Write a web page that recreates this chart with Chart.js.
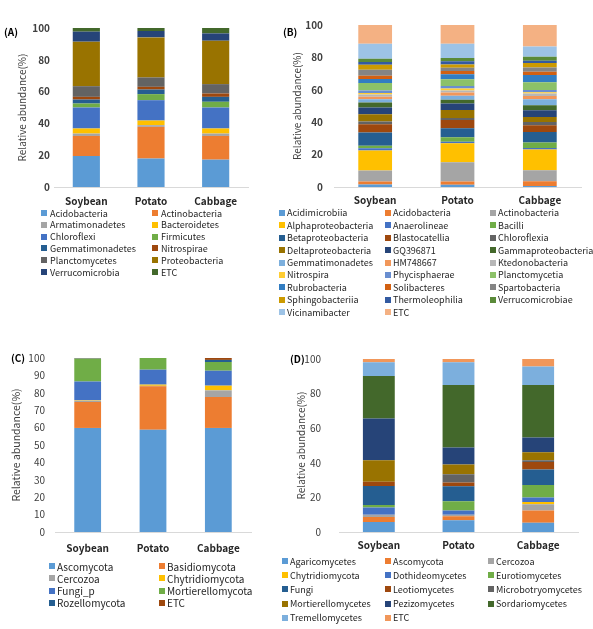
<!DOCTYPE html>
<html>
<head>
<meta charset="utf-8">
<script src="https://cdn.jsdelivr.net/npm/chart.js@4/dist/chart.umd.min.js"></script>
<style>
    html, body { margin: 0; padding: 0; background: #fff; }
    #wrap { position: relative; width: 593px; height: 629px; overflow: hidden; font-family: "Noto Sans CJK KR", "Noto Sans", sans-serif; }
    #wrap canvas { position: absolute; left: 0; top: 0; }
    .panel { position: absolute; font-size: 10px; font-weight: bold; color: #000; line-height: 12px; }
    .leg { position: absolute; display: flex; align-items: center; height: 12px; white-space: nowrap; color: #262626; }
    .leg i { display: inline-block; width: 6px; height: 6px; flex: none; }
</style>
</head>
<body>
<div id="wrap">
    <div class="panel" style="left:4px; top:26px;">(A)</div>
    <div class="panel" style="left:283px; top:26px;">(B)</div>
    <div class="panel" style="left:11px; top:352px;">(C)</div>
    <div class="panel" style="left:290px; top:353px;">(D)</div>
</div>
<script>
const sites = ['Soybean', 'Potato', 'Cabbage'];

// default office palette, in series order
const COLORS = ['#5B9BD5', '#ED7D31', '#A5A5A5', '#FFC000', '#4472C4', '#70AD47',
    '#255E91', '#9E480E', '#636363', '#997300', '#264478', '#43682B',
    '#7CAFDD', '#F1975A', '#B7B7B7', '#FFCD33', '#698ED0', '#8CC168',
    '#327DC2', '#D26012', '#848484', '#CC9A00', '#335AA1', '#5A8A39',
    '#9DC3E6', '#F4B183'];

// (A) bacterial phyla
const phylumNames = ['Acidobacteria', 'Actinobacteria', 'Armatimonadetes', 'Bacteroidetes', 'Chloroflexi', 'Firmicutes',
    'Gemmatimonadetes', 'Nitrospirae', 'Planctomycetes', 'Proteobacteria', 'Verrucomicrobia', 'ETC'];
const phylumSoybean = [19.5, 12.6, 1.5, 3.2, 13.2, 2.5, 2.5, 1.7, 6.7, 28.0, 6.3, 2.3];
const phylumPotato = [17.9, 19.9, 1.1, 2.9, 12.8, 3.8, 2.9, 1.7, 5.9, 25.2, 4.0, 1.9];
const phylumCabbage = [17.2, 14.9, 1.5, 3.2, 13.2, 3.6, 3.1, 2.1, 5.9, 27.3, 4.6, 3.4];

// (B) bacterial classes
const classNames = ['Acidimicrobiia', 'Acidobacteria', 'Actinobacteria', 'Alphaproteobacteria', 'Anaerolineae', 'Bacilli',
    'Betaproteobacteria', 'Blastocatellia', 'Chloroflexia', 'Deltaproteobacteria', 'GQ396871', 'Gammaproteobacteria',
    'Gemmatimonadetes', 'HM748667', 'Ktedonobacteria', 'Nitrospira', 'Phycisphaerae', 'Planctomycetia',
    'Rubrobacteria', 'Solibacteres', 'Spartobacteria', 'Sphingobacteriia', 'Thermoleophilia', 'Verrucomicrobiae',
    'Vicinamibacter', 'ETC'];
const classSoybean = [1.6, 1.8, 6.8, 12.3, 1.4, 1.6, 8.2, 5.1, 1.6, 4.5, 4.1, 3.1, 2.0, 1.6, 1.4, 1.0, 1.4, 4.7, 2.5, 2.0, 3.7, 3.1, 1.6, 2.0, 9.3, 11.6];
const classPotato = [1.4, 2.0, 11.9, 11.7, 1.0, 2.7, 5.6, 5.1, 1.2, 4.9, 4.1, 2.3, 2.5, 2.0, 1.2, 1.2, 1.6, 4.1, 3.1, 2.0, 2.0, 2.0, 2.0, 2.0, 8.8, 11.6];
const classCabbage = [0.6, 2.9, 6.8, 12.8, 1.0, 3.3, 6.6, 4.1, 2.0, 3.1, 4.1, 3.1, 3.7, 2.0, 1.6, 0.8, 1.4, 4.7, 4.5, 2.0, 2.7, 2.7, 1.4, 2.5, 6.4, 13.2];

// (C) fungal phyla
const fungiPhylumNames = ['Ascomycota', 'Basidiomycota', 'Cercozoa', 'Chytridiomycota', 'Fungi_p', 'Mortierellomycota', 'Rozellomycota', 'ETC'];
const fungiPhylumSoybean = [59.8, 14.9, 0.8, 0.3, 10.7, 13.1, 0.2, 0.2];
const fungiPhylumPotato = [58.8, 24.9, 0.3, 0.7, 8.6, 6.7, 0, 0];
const fungiPhylumCabbage = [59.8, 17.8, 3.8, 2.7, 8.6, 5.0, 1.2, 1.1];

// (D) fungal classes
const fungiClassNames = ['Agaricomycetes', 'Ascomycota', 'Cercozoa', 'Chytridiomycota', 'Dothideomycetes', 'Eurotiomycetes', 'Fungi',
    'Leotiomycetes', 'Microbotryomycetes', 'Mortierellomycetes', 'Pezizomycetes', 'Sordariomycetes', 'Tremellomycetes', 'ETC'];
const fungiClassSoybean = [5.8, 2.9, 1.3, 0, 4.1, 1.5, 11.0, 2.4, 0, 12.5, 24.1, 24.6, 7.9, 1.9];
const fungiClassPotato = [6.8, 2.3, 0.9, 0, 2.5, 5.3, 8.6, 2.2, 4.8, 5.6, 9.8, 36.1, 13.2, 1.9];
const fungiClassCabbage = [5.4, 7.1, 3.5, 1.4, 2.5, 7.3, 8.9, 4.4, 1.0, 4.6, 8.5, 30.3, 10.7, 4.4];

const wrap = document.getElementById('wrap');
const FONT = '"Noto Sans CJK KR", "Noto Sans", sans-serif';

// every chart gets a full-size transparent canvas, plot box set by padding
function makePanel(p) {
    const canvas = document.createElement('canvas');
    canvas.width = 593;
    canvas.height = 629;
    wrap.insertBefore(canvas, wrap.firstChild);

    new Chart(canvas.getContext('2d'), {
        type: 'bar',
        data: {
            labels: sites,
            datasets: p.names.map((name, i) => ({
                label: name,
                data: p.values.map(v => v[i]),
                backgroundColor: COLORS[i],
                borderWidth: 0,
                barPercentage: p.barPct,
                categoryPercentage: 1
            }))
        },
        options: {
            responsive: false,
            animation: false,
            layout: {
                padding: { left: p.titleX - 6, top: p.top, right: 593 - p.right, bottom: 629 - p.bottom - 24 }
            },
            plugins: {
                legend: { display: false },
                tooltip: { enabled: false }
            },
            scales: {
                x: {
                    stacked: true,
                    grid: { display: false, drawTicks: false },
                    border: { display: true, color: '#d9d9d9' },
                    ticks: { padding: p.xPad, color: '#262626', font: { family: FONT, size: 10, weight: 'bold' } },
                    afterFit: s => { s.height = 24; }
                },
                y: {
                    stacked: true,
                    min: 0,
                    max: 100,
                    grid: { display: false, drawTicks: false },
                    border: { display: false },
                    ticks: { stepSize: p.step, padding: p.yPad, color: '#404040', font: { family: FONT, size: 10, weight: p.tickWeight } },
                    title: { display: true, text: 'Relative abundance(%)', padding: 0, color: '#404040', font: { family: FONT, size: p.titleSize } },
                    afterFit: s => { s.width = p.left - (p.titleX - 6); }
                }
            }
        }
    });
}

function makeLegend(names, l) {
    names.forEach((name, i) => {
        const row = Math.floor(i / l.cols.length), col = i % l.cols.length;
        const d = document.createElement('div');
        d.className = 'leg';
        d.style.left = l.cols[col] + 'px';
        d.style.top = (l.y0 + row * l.dy - 6) + 'px';
        d.style.fontSize = l.size + 'px';
        const sq = document.createElement('i');
        sq.style.background = COLORS[i];
        sq.style.marginRight = (l.gap - 6) + 'px';
        d.appendChild(sq);
        d.appendChild(document.createTextNode(name));
        wrap.appendChild(d);
    });
}

document.addEventListener('DOMContentLoaded', function() {
    makePanel({ names: phylumNames, values: [phylumSoybean, phylumPotato, phylumCabbage],
        left: 54, right: 248, top: 28, bottom: 187, titleX: 22, step: 20, yPad: 4, xPad: 8,
        barPct: 0.42, tickWeight: 'bold', titleSize: 10 });
    makePanel({ names: classNames, values: [classSoybean, classPotato, classCabbage],
        left: 334, right: 581, top: 25, bottom: 187, titleX: 297, step: 20, yPad: 11, xPad: 7,
        barPct: 0.41, tickWeight: 'bold', titleSize: 10 });
    makePanel({ names: fungiPhylumNames, values: [fungiPhylumSoybean, fungiPhylumPotato, fungiPhylumCabbage],
        left: 55, right: 251, top: 358, bottom: 532, titleX: 16, step: 10, yPad: 10, xPad: 10,
        barPct: 0.41, tickWeight: 'normal', titleSize: 10.5 });
    makePanel({ names: fungiClassNames, values: [fungiClassSoybean, fungiClassPotato, fungiClassCabbage],
        left: 339, right: 578, top: 359, bottom: 532, titleX: 301, step: 20, yPad: 18, xPad: 7,
        barPct: 0.40, tickWeight: 'normal', titleSize: 10 });

    makeLegend(phylumNames, { cols: [41, 152], y0: 213, dy: 11.8, gap: 9, size: 9 });
    makeLegend(classNames, { cols: [279, 385, 490], y0: 212.7, dy: 12.45, gap: 8, size: 9 });
    makeLegend(fungiPhylumNames, { cols: [49, 159], y0: 566, dy: 12.3, gap: 8, size: 10 });
    makeLegend(fungiClassNames, { cols: [282, 385, 488], y0: 561, dy: 14.2, gap: 8, size: 9 });
});
</script>
</body>
</html>
